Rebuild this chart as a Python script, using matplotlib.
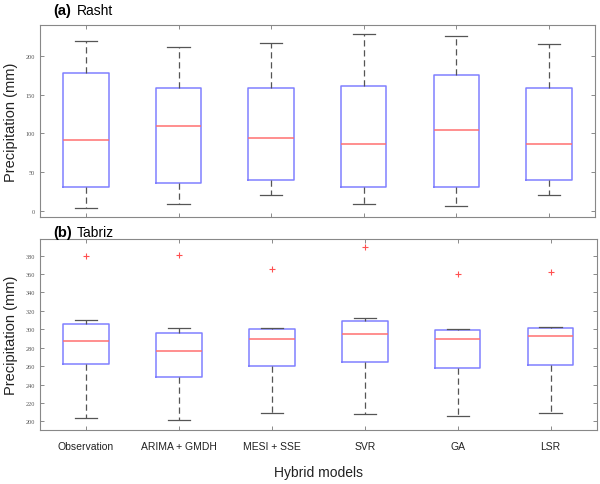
import matplotlib.pyplot as plt

plt.rcParams['font.family'] = 'Liberation Sans'

# Data
models = ['Observation', 'ARIMA + GMDH', 'MESI + SSE', 'SVR', 'GA', 'LSR']

# Rasht: whisker low, q1, median, q3, whisker high
rasht_low = [3, 9, 20, 9, 6, 20]
rasht_q1 = [31, 36, 40, 31, 31, 40]
rasht_med = [91, 110, 94, 86, 105, 86]
rasht_q3 = [178, 159, 159, 161, 175, 159]
rasht_high = [220, 212, 217, 228, 226, 216]

# Tabriz
tabriz_low = [204, 202, 209, 208, 206, 209]
tabriz_q1 = [262, 248, 260, 264, 258, 261]
tabriz_med = [287, 276, 289, 295, 290, 293]
tabriz_q3 = [306, 296, 300, 309, 299, 301]
tabriz_high = [310, 301, 301, 312, 300, 302]
tabriz_out = [380, 381, 365, 389, 360, 362]


def make_stats(low, q1, med, q3, high, out=None):
    stats = []
    for i in range(len(low)):
        stats.append({'whislo': low[i], 'q1': q1[i], 'med': med[i],
                      'q3': q3[i], 'whishi': high[i],
                      'fliers': [out[i]] if out else []})
    return stats


box_style = dict(color='#8080ff', linewidth=1.1)
med_style = dict(color='#ff7070', linewidth=1.1)
whisk_style = dict(color='#555555', linestyle=(0, (5, 3)), linewidth=0.9)
cap_style = dict(color='#555555', linewidth=0.9)
flier_style = dict(marker='+', markeredgecolor='#ff5050', markersize=4,
                   markeredgewidth=0.8, linestyle='none')

fig = plt.figure(figsize=(6, 4.85), dpi=100)
ax1 = fig.add_axes([0.066, 0.55, 0.926, 0.396])
ax2 = fig.add_axes([0.066, 0.112, 0.929, 0.393])

ax1.bxp(make_stats(rasht_low, rasht_q1, rasht_med, rasht_q3, rasht_high),
        positions=range(1, 7), widths=0.49, boxprops=box_style,
        medianprops=med_style, whiskerprops=whisk_style, capprops=cap_style,
        capwidths=0.24, showfliers=False)
ax2.bxp(make_stats(tabriz_low, tabriz_q1, tabriz_med, tabriz_q3, tabriz_high, tabriz_out),
        positions=range(1, 7), widths=0.49, boxprops=box_style,
        medianprops=med_style, whiskerprops=whisk_style, capprops=cap_style,
        capwidths=0.24, flierprops=flier_style)

ax1.set_ylim(-8.5, 240)
ax1.set_yticks([0, 50, 100, 150, 200])
ax2.set_ylim(191, 398)
ax2.set_yticks(range(200, 381, 20))

for ax in (ax1, ax2):
    ax.set_xlim(0.5, 6.5)
    ax.set_xticks(range(1, 7))
    ax.tick_params(direction='in', top=True, right=True, length=3,
                   width=0.6, color='#777777', labelsize=4.5, labelcolor='#555555')
    for lbl in ax.get_yticklabels():
        lbl.set_family('Liberation Serif')
    for sp in ax.spines.values():
        sp.set_color('#888888')
        sp.set_linewidth(0.8)
    ax.set_ylabel('Precipitation (mm)', fontsize=10.5, color='#222222', labelpad=5)

ax1.set_xticklabels([])
ax2.set_xticklabels(models, fontsize=7.5, color='#222222')
ax2.tick_params(axis='x', labelsize=7.5, pad=8, labelcolor='#222222')
ax2.set_xlabel('Hybrid models', fontsize=10, color='#222222', labelpad=10)

fig.text(0.088, 0.978, '(a)', fontsize=10.5, fontweight='bold', va='center')
fig.text(0.128, 0.978, 'Rasht', fontsize=10, va='center')
fig.text(0.088, 0.519, '(b)', fontsize=10.5, fontweight='bold', va='center')
fig.text(0.128, 0.519, 'Tabriz', fontsize=10, va='center')

fig.savefig('out.png', dpi=100)
